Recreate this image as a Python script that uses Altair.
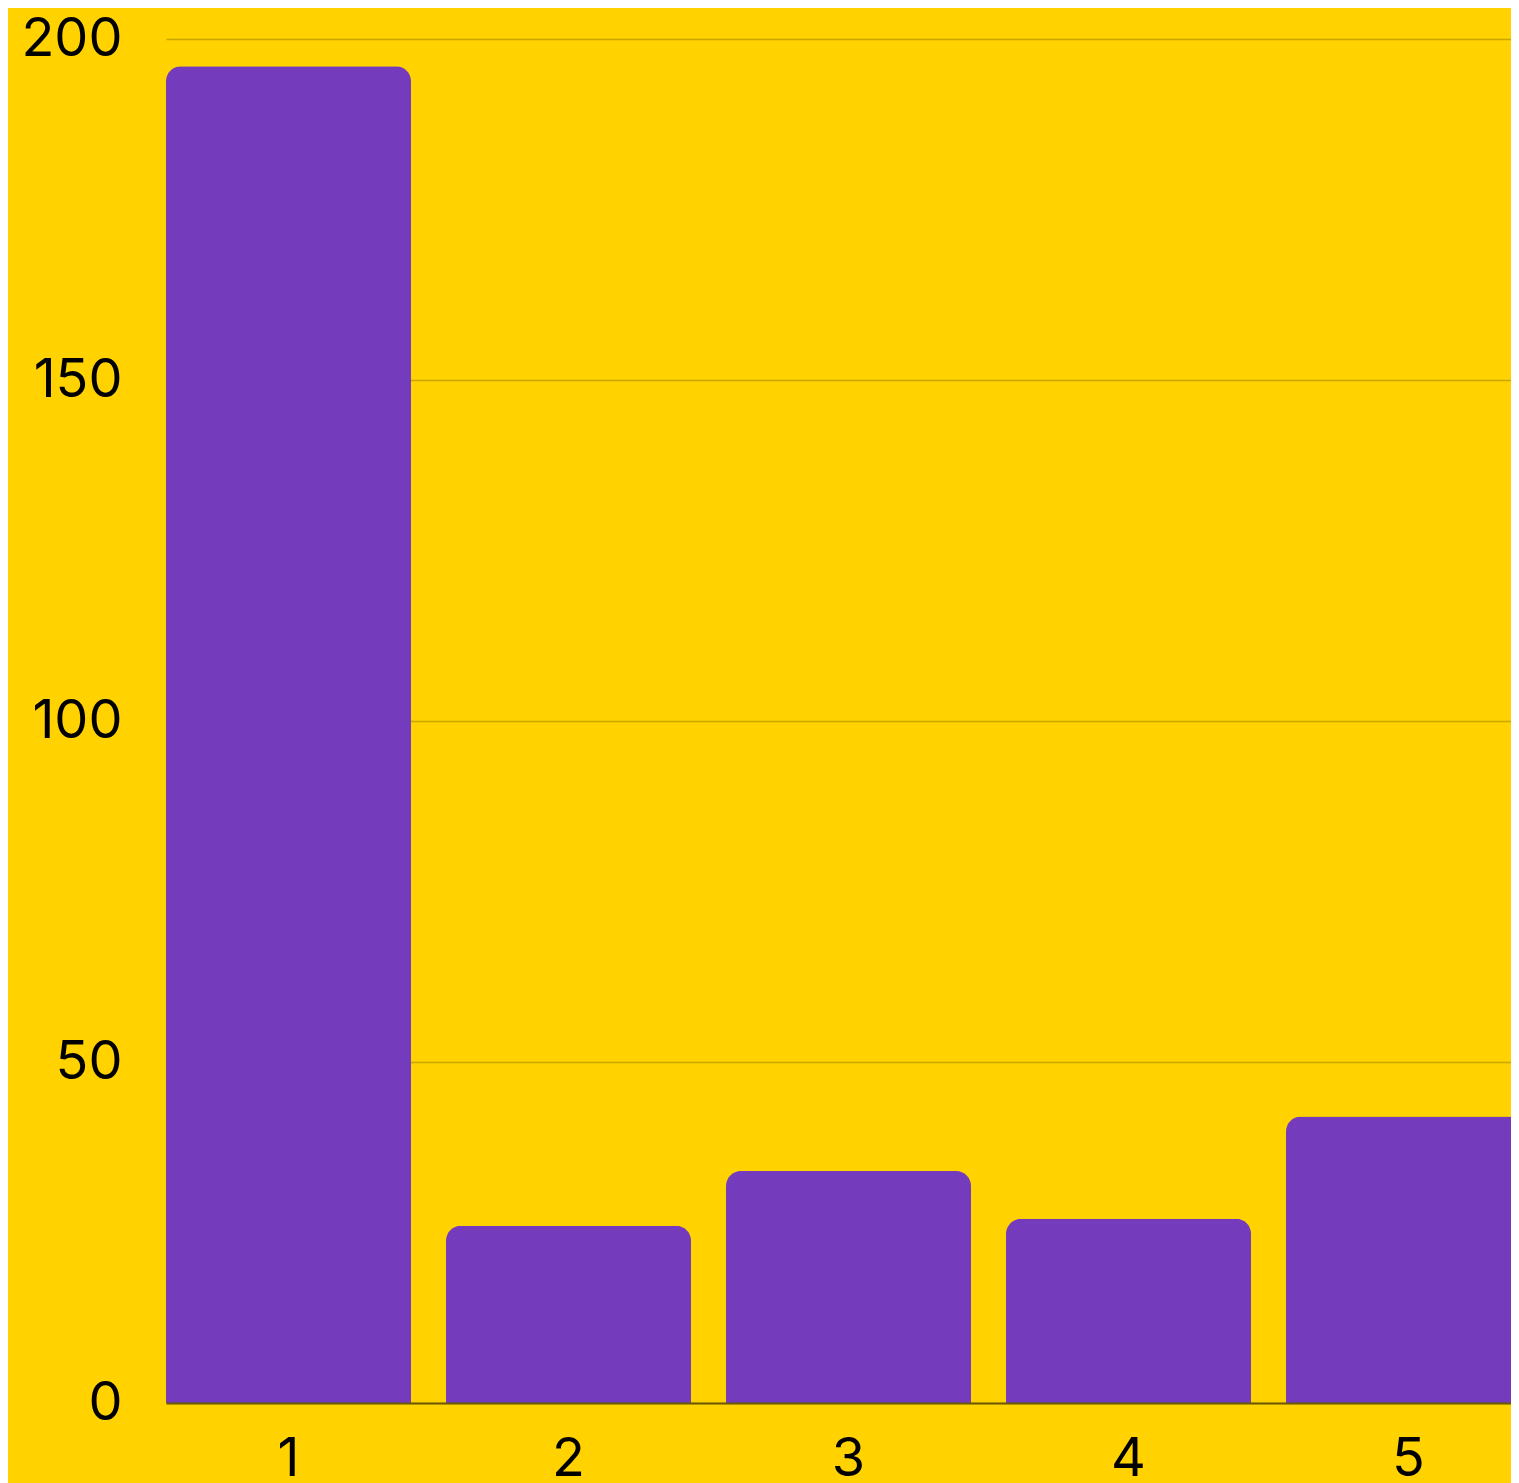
import altair as alt
import pandas as pd

categories = ["1", "2", "3", "4", "5"]
values = [196, 26, 34, 27, 42]
y_ticks = [0, 50, 100, 150, 200]

df = pd.DataFrame({"cat": categories, "val": values})

chart = alt.Chart(df).mark_bar(
    color="#743BBC",
    cornerRadiusTopLeft=15,
    cornerRadiusTopRight=15,
).encode(
    x=alt.X("cat:O", sort=categories,
            scale=alt.Scale(paddingInner=0.125, paddingOuter=0),
            axis=alt.Axis(title=None, labelAngle=0, ticks=False, tickSize=0,
                          labelPadding=29, domain=True, domainColor="#6B5A00",
                          domainWidth=2, grid=False, zindex=1,
                          labelFontSize=54, labelFont="Inter", labelColor="#000000")),
    y=alt.Y("val:Q", scale=alt.Scale(domain=[0, 200], nice=False),
            axis=alt.Axis(title=None, values=y_ticks, ticks=False, tickSize=0,
                          domain=False, labelPadding=44, grid=True,
                          gridColor="#C9A600", gridWidth=1.5,
                          labelFontSize=54, labelFont="Inter", labelColor="#000000")),
).properties(
    width=1365,
    height=1364,
    autosize=alt.AutoSizeParams(type="none"),
    padding={"left": 158, "top": 31, "right": -20, "bottom": 84},
).configure(
    background="#FFD200",
).configure_view(
    stroke=None,
)

chart.save("out.html", embed_options={"renderer": "svg", "actions": False})
